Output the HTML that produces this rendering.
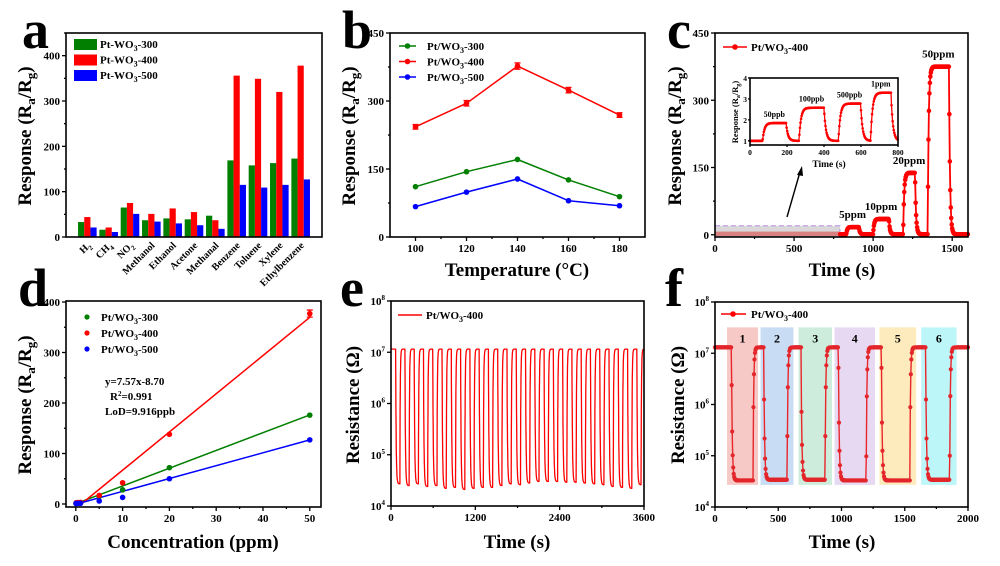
<!DOCTYPE html>
<html><head><meta charset="utf-8"><style>
html,body{margin:0;padding:0;background:#fff;}
svg{display:block;font-family:"Liberation Serif",serif;font-weight:bold;}
</style></head><body>
<svg id="fig" width="1000" height="566" viewBox="0 0 1000 566" xmlns="http://www.w3.org/2000/svg"></svg>
<script>
// ---- Panel a data ----
const aCategories=["H2","CH4","NO2","Methanol","Ethanol","Acetone","Methanal","Benzene","Toluene","Xylene","Ethylbenzene"];
const aS300=[33,16,65,37,41,39,47,169,158,163,173];
const aS400=[44,21,75,51,63,55,37,356,349,320,378];
const aS500=[21,11,51,34,30,26,18,115,109,115,127];
const aYTicks=[0,100,200,300,400];
// ---- Panel b data ----
const bTemps=[100,120,140,160,180];
const bS300=[111,144,171,126,89];
const bS400=[243,295,377,324,269];
const bS500=[67,99,128,80,69];
const bErr400=[5,6,7,6,5];
const bXTicks=[100,120,140,160,180];
const bYTicks=[0,150,300,450];
// ---- Panel c data ----
const cPulseStart=[830,1000,1190,1345];
const cPulseEnd=[910,1100,1265,1480];
const cPulseLevel=[17,35,138,375];
const cPulseLabels=["5ppm","10ppm","20ppm","50ppm"];
const cXTicks=[0,500,1000,1500];
const cYTicks=[0,150,300,450];
const insetStart=[68,265,478,652];
const insetEnd=[195,400,598,762];
const insetLevel=[1.85,2.58,2.78,3.3];
const insetLabels=["50ppb","100ppb","500ppb","1ppm"];
const insetXTicks=[0,200,400,600,800];
const insetYTicks=[1,2,3,4];
// ---- Panel d data ----
const dConc=[0.05,0.1,0.5,1,5,10,20,50];
const dS300=[1,1.3,1.5,2,15,28,72,176];
const dS400=[1.85,2.6,2.8,3.2,17,42,138,377];
const dS500=[1,1.2,1.3,1.5,6,13,50,127];
const dFitSlope=[3.52,7.57,2.55];
const dFitIntercept=[0.5,-8.70,-0.5];
const dXTicks=[0,10,20,30,40,50];
const dYTicks=[0,100,200,300,400];
// ---- Panel e data ----
const eOnsets=[66,198,330,462,594,726,858,990,1122,1254,1386,1518,1650,1782,1914,2046,2178,2310,2442,2574,2706,2838,2970,3102,3234,3366,3498];
const eMins=[2.7e4,2.5e4,2.7e4,2.4e4,2.5e4,2.2e4,2.3e4,2.1e4,2.2e4,2.3e4,2.3e4,2.5e4,2.7e4,2.6e4,2.8e4,3.0e4,3.0e4,3.0e4,2.9e4,2.9e4,2.8e4,2.7e4,2.6e4,2.4e4,2.3e4,2.2e4,2.6e4];
const eHigh=1.15e7;
const eXTicks=[0,1200,2400,3600];
const eYTickExp=[4,5,6,7,8];
// ---- Panel f data ----
const fOn=[130,385,680,975,1315,1665];
const fOff=[300,570,870,1195,1540,1855];
const fLow=[3.3e4,3.4e4,3.4e4,3.3e4,3.3e4,3.4e4];
const fHigh=1.3e7;
const fBoxStart=[95,360,660,945,1300,1630];
const fBoxEnd=[340,620,925,1265,1590,1910];
const fBoxColors=["#f6c9c6","#c8dcf3","#cdecdb","#e8d9f2","#fdebbd","#bdf6f8"];
const fXTicks=[0,500,1000,1500,2000];
const fYTickExp=[4,5,6,7,8];

const NS="http://www.w3.org/2000/svg";
const svg=document.getElementById('fig');
function mk(tag,attrs,parent){const e=document.createElementNS(NS,tag);for(const k in attrs)e.setAttribute(k,attrs[k]);(parent||svg).appendChild(e);return e;}
function lin(d0,d1,r0,r1){return v=>r0+(v-d0)/(d1-d0)*(r1-r0);}
function lg(d0,d1,r0,r1){return v=>r0+(Math.log10(v)-Math.log10(d0))/(Math.log10(d1)-Math.log10(d0))*(r1-r0);}
function txt(x,y,s,size,anchor,parent){const t=mk('text',{x:x,y:y,'font-size':size,'text-anchor':anchor||'middle'},parent);t.innerHTML=s;return t;}
function frame(x0,y0,x1,y1,name){const r=mk('rect',{x:x0,y:y0,width:x1-x0,height:y1-y0,fill:'none',stroke:'#000','stroke-width':1.6});

}
function xtick(x,y,lab,size,len,name){const l=mk('line',{x1:x,x2:x,y1:y,y2:y+(len||4),stroke:'#000','stroke-width':1.3});


if(lab!==null){const t=txt(x,y+15,lab,size||11);

}}
function ytick(x,y,lab,size,len,name){const l=mk('line',{x1:x-(len||4),x2:x,y1:y,y2:y,stroke:'#000','stroke-width':1.3});


if(lab!==null){const t=txt(x-6,y+4,lab,size||11,'end');

}}
const RAG='Response (R<tspan dy="4" font-size="13">a</tspan><tspan dy="-4">/R</tspan><tspan dy="4" font-size="13">g</tspan><tspan dy="-4">)</tspan>';
function ytitle(x,y,s,name,size){const t=mk('text',{x:0,y:0,'font-size':size||19,'text-anchor':'middle',transform:`translate(${x},${y}) rotate(-90)`});t.innerHTML=s;

}
function xtitle(x,y,s,name){const t=txt(x,y,s,19);

}
function plabel(x,y,s,name){const t=txt(x,y,s,54,'start');

}
function poly(pts,color,w,name,parent){const p=mk('polyline',{points:pts.map(p=>p[0].toFixed(1)+','+p[1].toFixed(1)).join(' '),fill:'none',stroke:color,'stroke-width':w,'stroke-linejoin':'round'},parent);

return p;}
function dot(x,y,r,color,name,parent){const c=mk('circle',{cx:x,cy:y,r:r,fill:color},parent);

}
function sub3(a,b){return a+'<tspan dy="3" font-size="8">3</tspan><tspan dy="-3">'+b+'</tspan>';}
const RED='#ff0000',GRN='#007f00',BLU='#0000ff';

// ================= Panel a =================
(function(){
const X0=66,X1=322,Y0=33,Y1=237;
const xs=lin(-1,11,X0,X1), ys=lin(0,450,Y1,Y0);
const series=[aS300,aS400,aS500], cols=[GRN,RED,BLU], nm=['300','400','500'];
series.forEach((s,k)=>s.forEach((v,i)=>{
 const cx=xs(i)+(k-1)*6.2;
 const r=mk('rect',{x:cx-3.1,y:ys(v),width:6.2,height:Y1-ys(v),fill:cols[k]});
 
 
}));
frame(X0,Y0,X1,Y1,'panel-a-frame');
aYTicks.forEach(v=>ytick(X0,ys(v),String(v),11,4,'a-y'));
[50,150,250,350,450].forEach(v=>ytick(X0,ys(v),null,11,2,'a-y-minor'));
aCategories.forEach((c,i)=>{
 const x=xs(i);
 const lab=c==='H2'?'H<tspan dy="3" font-size="7">2</tspan>':c==='CH4'?'CH<tspan dy="3" font-size="7">4</tspan>':c==='NO2'?'NO<tspan dy="3" font-size="7">2</tspan>':c;
 const t=mk('text',{x:0,y:0,'font-size':10,'text-anchor':'end',transform:`translate(${x+4},${Y1+9}) rotate(-45)`});t.innerHTML=lab;
 
 
});
cols.forEach((c,k)=>{
 const r=mk('rect',{x:74,y:39+k*15.5,width:23,height:11,fill:c});
 
 
 const t=txt(100,48+k*15.5,sub3('Pt-WO','-'+nm[k]),11,'start');
 
 
});
ytitle(31,136,RAG,'a-y-axis-title');
plabel(22,48,'a','panel-a-label');
})();

// ================= Panel b =================
(function(){
const X0=390,X1=645,Y0=33,Y1=237;
const xs=lin(90,190,X0,X1), ys=lin(0,450,Y1,Y0);
frame(X0,Y0,X1,Y1,'panel-b-frame');
bXTicks.forEach(v=>xtick(xs(v),Y1,String(v),11,4,'b-x'));
[110,130,150,170].forEach(v=>xtick(xs(v),Y1,null,11,2,'b-x-minor'));
bYTicks.forEach(v=>ytick(X0,ys(v),String(v),11,4,'b-y'));
[75,225,375].forEach(v=>ytick(X0,ys(v),null,11,2,'b-y-minor'));
const series=[bS300,bS400,bS500], cols=[GRN,RED,BLU], nm=['300','400','500'];
series.forEach((s,k)=>{
 poly(s.map((v,i)=>[xs(bTemps[i]),ys(v)]),cols[k],1.5,'b-line-'+nm[k]);
 s.forEach((v,i)=>{
  if(k===1){const e=mk('path',{d:`M${xs(bTemps[i])},${ys(v-bErr400[i])}V${ys(v+bErr400[i])}M${xs(bTemps[i])-3},${ys(v-bErr400[i])}h6M${xs(bTemps[i])-3},${ys(v+bErr400[i])}h6`,stroke:cols[k],'stroke-width':1.3,fill:'none'});
   
   }
  dot(xs(bTemps[i]),ys(v),2.8,cols[k],'b-point-'+nm[k]);
 });
 poly([[399,46+k*15.5],[416,46+k*15.5]],cols[k],1.5,'b-legend-line-'+nm[k]);
 dot(407.5,46+k*15.5,2.8,cols[k],'b-legend-marker-'+nm[k]);
 const t=txt(427,50+k*15.5,sub3('Pt/WO','-'+nm[k]),11,'start');
 
 
});
ytitle(355,136,RAG,'b-y-axis-title');
xtitle(517,276,'Temperature (°C)','b-x-axis-title');
plabel(342,48,'b','panel-b-label');
})();

// ================= Panel c =================
(function(){
const X0=715,X1=968,Y0=33,Y1=237;
const xs=lin(0,1600,X0,X1), ys=lin(-5,450,Y1,Y0);
function resp(t,S,E,L,base,tau){let v=base;for(let i=0;i<S.length;i++){if(t>=S[i]&&t<=E[i])v+=(L[i]-base)*(1-Math.exp(-(t-S[i])/tau));else if(t>E[i])v+=(L[i]-base)*(1-Math.exp(-(E[i]-S[i])/tau))*Math.exp(-(t-E[i])/tau);}return v;}
const sh=mk('rect',{x:xs(0),y:ys(20),width:xs(790)-xs(0),height:ys(0)-ys(20)+2,fill:'#d8d8d8',stroke:'#b58be8','stroke-dasharray':'5,3','stroke-width':1});


const sh2=mk('rect',{x:xs(0),y:ys(7),width:xs(790)-xs(0),height:ys(-3)-ys(7),fill:'#d98080'});


const pts=[];for(let t=0;t<=1600;t+=3){pts.push([xs(t),ys(resp(t,cPulseStart,cPulseEnd,cPulseLevel,1,6))]);}
poly(pts.filter(p=>p[0]>=xs(790)),RED,1.8,'c-response-curve');
pts.forEach(p=>{if(p[0]>=xs(790))dot(p[0],p[1],2.3,RED,'c-point');});
frame(X0,Y0,X1,Y1,'panel-c-frame');
cXTicks.forEach(v=>xtick(xs(v),Y1,String(v),11,4,'c-x'));
[250,750,1250].forEach(v=>xtick(xs(v),Y1,null,11,2,'c-x-minor'));
cYTicks.forEach(v=>ytick(X0,ys(v),String(v),11,4,'c-y'));
[75,225,375].forEach(v=>ytick(X0,ys(v),null,11,2,'c-y-minor'));
cPulseLabels.forEach((s,i)=>{const t=txt(xs((cPulseStart[i]+cPulseEnd[i])/2),ys(cPulseLevel[i])-9,s,11);
 
 });
poly([[723,47],[747,47]],RED,1.6,'c-legend-line');
dot(735,47,2.8,RED,'c-legend-marker');
const lt=txt(751,51,sub3('Pt/WO','-400'),11,'start');


const ar=mk('path',{d:'M787,217 L800,172',stroke:'#000','stroke-width':1.4,fill:'none'});


const ah=mk('path',{d:'M802,166 L797,175 L803,176 Z',fill:'#000'});


const IX0=750,IX1=898,IY0=78,IY1=145;
const ix=lin(0,800,IX0,IX1), iy=lin(0.8,4,IY1,IY0);
const bg=mk('rect',{x:IX0,y:IY0,width:IX1-IX0,height:IY1-IY0,fill:'#fff'});


const ipts=[];for(let t=0;t<=800;t+=3){ipts.push([ix(t),iy(resp(t,insetStart,insetEnd,insetLevel,1,10))]);}
poly(ipts,RED,1.3,'c-inset-curve');
ipts.forEach(p=>dot(p[0],p[1],1.3,RED,'c-inset-point'));
frame(IX0,IY0,IX1,IY1,'c-inset-frame');
insetXTicks.forEach(v=>{xtick(ix(v),IY1,null,8,2,'c-inset-x');const t=txt(ix(v),IY1+10,String(v),7.5);
 
 });
insetYTicks.forEach(v=>{ytick(IX0,iy(v),null,8,2,'c-inset-y');const t=txt(IX0-3,iy(v)+3,String(v),7.5,'end');
 
 });
insetLabels.forEach((s,i)=>{const t=txt(ix((insetStart[i]+insetEnd[i])/2),iy(insetLevel[i])-6,s,8);
 
 });
ytitle(738,112,'Response (R<tspan dy="2" font-size="6">a</tspan><tspan dy="-2">/R</tspan><tspan dy="2" font-size="6">g</tspan><tspan dy="-2">)</tspan>','c-inset-y-title',8.5);
const it=txt(829,167,'Time (s)',9.5);


ytitle(681,136,RAG,'c-y-axis-title');
xtitle(842,276,'Time (s)','c-x-axis-title');
plabel(667,48,'c','panel-c-label');
})();

// ================= Panel d =================
(function(){
const X0=66,X1=321,Y0=301,Y1=507;
const xs=lin(-2.1,52.4,X0,X1), ys=lin(0,400,504,302);
frame(X0,Y0,X1,Y1,'panel-d-frame');
dXTicks.forEach(v=>xtick(xs(v),Y1,String(v),11,4,'d-x'));
[5,15,25,35,45].forEach(v=>xtick(xs(v),Y1,null,11,2,'d-x-minor'));
dYTicks.forEach(v=>ytick(X0,ys(v),String(v),11,4,'d-y'));
[50,150,250,350].forEach(v=>ytick(X0,ys(v),null,11,2,'d-y-minor'));
const series=[dS300,dS400,dS500], cols=[GRN,RED,BLU], nm=['300','400','500'];
series.forEach((s,k)=>{
 const xa=Math.max(0,-dFitIntercept[k]/dFitSlope[k]);
 poly([[xs(xa),ys(dFitSlope[k]*xa+dFitIntercept[k])],[xs(50),ys(dFitSlope[k]*50+dFitIntercept[k])]],cols[k],1.5,'d-fit-line-'+nm[k]);
});
series.forEach((s,k)=>{
 s.forEach((v,i)=>dot(xs(dConc[i]),ys(v),2.8,cols[k],'d-point-'+nm[k]));
 dot(87,317+k*16,2.6,cols[k],'d-legend-marker-'+nm[k]);
 const t=txt(101,321+k*16,sub3('Pt/WO','-'+nm[k]),11,'start');
 
 
});
const eb=mk('path',{d:`M${xs(50)},${ys(370)}V${ys(384)}M${xs(50)-3},${ys(370)}h6M${xs(50)-3},${ys(384)}h6`,stroke:RED,'stroke-width':1.3});


const l1=txt(105,385,'y=7.57x-8.70',11,'start');


const l2=txt(110,400,'R<tspan dy="-4" font-size="7">2</tspan><tspan dy="4">=0.991</tspan>',11,'start');


const l3=txt(105,415,'LoD=9.916ppb',11,'start');


ytitle(31,405,RAG,'d-y-axis-title');
xtitle(193,548,'Concentration (ppm)','d-x-axis-title');
plabel(18,306,'d','panel-d-label');
})();

function expTick(e){return '10<tspan dy="-5" font-size="7">'+e+'</tspan>';}

// ================= Panel e =================
(function(){
const X0=391,X1=644,Y0=301,Y1=506;
const xs=lin(0,3600,X0,X1), ys=lg(1e4,1e8,Y1,Y0);
const pts=[];
for(let t=0;t<=3600;t+=2){
 let L=Math.log10(eHigh);
 for(let i=0;i<eOnsets.length;i++){
  const on=eOnsets[i],off=on+60,lo=Math.log10(eMins[i]),hi=Math.log10(eHigh);
  if(t>=on&&t<=off){L=lo+(hi-lo)*Math.exp(-(t-on)/7);}
  else if(t>off&&t<off+45){const lv=lo+(hi-lo)*Math.exp(-60/7);L=Math.min(hi,lv+(hi-lv)*(1-Math.exp(-(t-off)/5)));}
 }
 pts.push([xs(t),ys(Math.pow(10,L))]);
}
poly(pts,RED,1.3,'e-resistance-curve');
frame(X0,Y0,X1,Y1,'panel-e-frame');
eXTicks.forEach(v=>xtick(xs(v),Y1,String(v),11,4,'e-x'));
[600,1800,3000].forEach(v=>xtick(xs(v),Y1,null,11,2,'e-x-minor'));
eYTickExp.forEach(e=>ytick(X0,ys(Math.pow(10,e)),expTick(e),11,4,'e-y'));
poly([[398,315],[422,315]],RED,1.6,'e-legend-line');
const lt=txt(426,319,sub3('Pt/WO','-400'),11,'start');


ytitle(359,405,'Resistance (Ω)','e-y-axis-title');
xtitle(517,548,'Time (s)','e-x-axis-title');
plabel(340,306,'e','panel-e-label');
})();

// ================= Panel f =================
(function(){
const X0=715,X1=968,Y0=302,Y1=507;
const xs=lin(0,2000,X0,X1), ys=lg(1e4,1e8,Y1,Y0);
fBoxStart.forEach((s,i)=>{
 const r=mk('rect',{x:xs(s),y:ys(3.2e7),width:xs(fBoxEnd[i])-xs(s),height:ys(2.7e4)-ys(3.2e7),fill:fBoxColors[i]});
 
 
 const t=txt((xs(s)+xs(fBoxEnd[i]))/2,ys(3.2e7)+15,String(i+1),12);
 
 
});
const pts=[];
for(let t=0;t<=2000;t+=4){
 let L=Math.log10(fHigh);
 for(let i=0;i<fOn.length;i++){
  const lo=Math.log10(fLow[i]),hi=Math.log10(fHigh);
  if(t>=fOn[i]&&t<=fOff[i])L=lo+(hi-lo)*Math.exp(-(t-fOn[i])/6);
  else if(t>fOff[i]&&t<fOff[i]+60){const lv=lo;L=Math.min(hi,lv+(hi-lv)*(1-Math.exp(-(t-fOff[i])/5)));}
 }
 pts.push([xs(t),ys(Math.pow(10,L))]);
}
poly(pts,'#e8262b',1.4,'f-resistance-curve');
pts.forEach(p=>dot(p[0],p[1],2.1,'#e3262b','f-point'));
frame(X0,Y0,X1,Y1,'panel-f-frame');
fXTicks.forEach(v=>xtick(xs(v),Y1,String(v),11,4,'f-x'));
[250,750,1250,1750].forEach(v=>xtick(xs(v),Y1,null,11,2,'f-x-minor'));
fYTickExp.forEach(e=>ytick(X0,ys(Math.pow(10,e)),expTick(e),11,4,'f-y'));
poly([[721,314],[746,314]],RED,1.6,'f-legend-line');
dot(733,314,2.8,RED,'f-legend-marker');
const lt=txt(751,318,sub3('Pt/WO','-400'),11,'start');


ytitle(684,405,'Resistance (Ω)','f-y-axis-title');
xtitle(842,548,'Time (s)','f-x-axis-title');
plabel(665,306,'f','panel-f-label');
})();
</script>
</body></html>
